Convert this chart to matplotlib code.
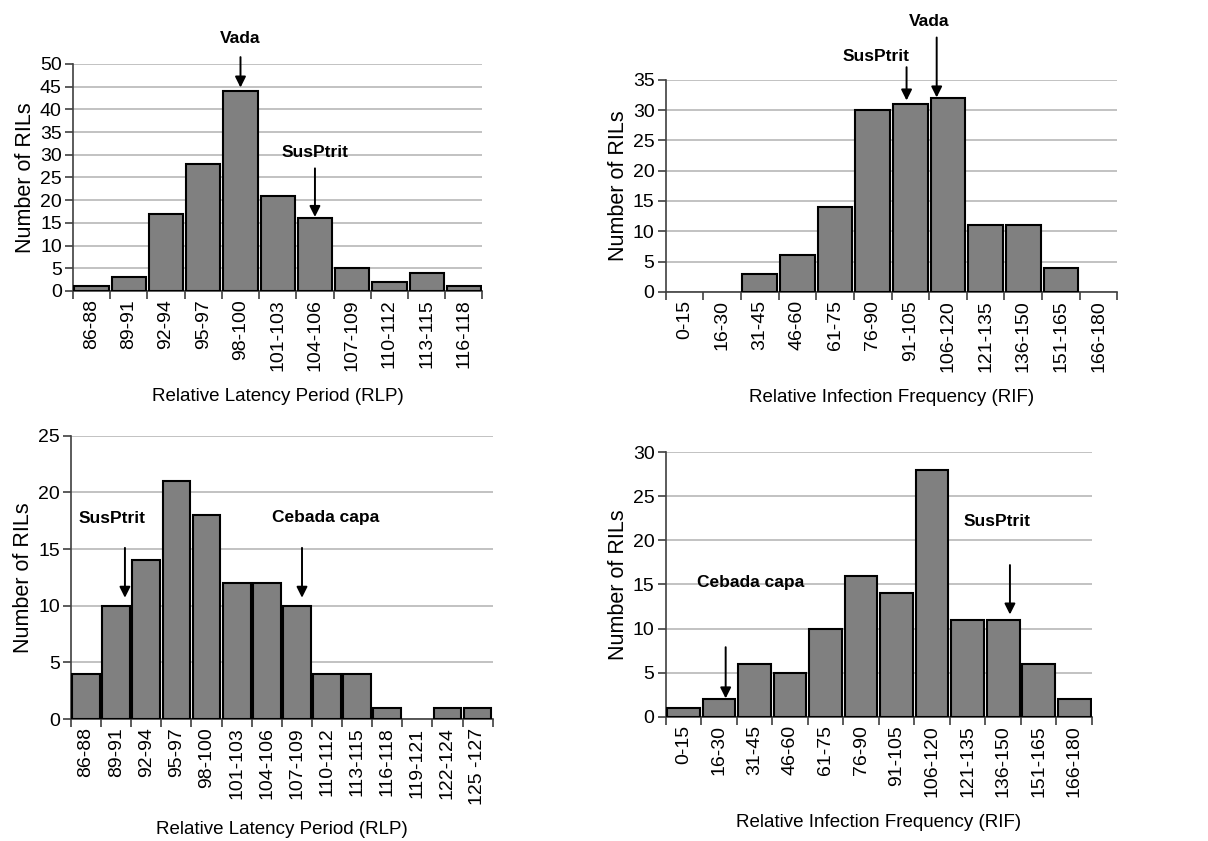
import numpy as np
from matplotlib import pyplot as plt

plt.rcParams['font.family'] = ['Liberation Sans', 'DejaVu Sans']

# category labels
rlp_labels_a = ['86-88', '89-91', '92-94', '95-97', '98-100', '101-103', '104-106',
                '107-109', '110-112', '113-115', '116-118']
rlp_labels_b = rlp_labels_a + ['119-121', '122-124', '125 -127']
rif_labels = ['0-15', '16-30', '31-45', '46-60', '61-75', '76-90', '91-105',
              '106-120', '121-135', '136-150', '151-165', '166-180']

# counts of RILs
rlp_counts_a = [1, 3, 17, 28, 44, 21, 16, 5, 2, 4, 1]
rif_counts_a = [0, 0, 3, 6, 14, 30, 31, 32, 11, 11, 4, 0]
rlp_counts_b = [4, 10, 14, 21, 18, 12, 12, 10, 4, 4, 1, 0, 1, 1]
rif_counts_b = [1, 2, 6, 5, 10, 16, 14, 28, 11, 11, 6, 2]

# parent markers: (name, text x, text y, arrow x, arrow start, arrow tip)
marks_tl = [('Vada', 4.0, 55.5, 4.0, 51.5, 44.8),
            ('SusPtrit', 6.0, 30.5, 6.0, 27.0, 16.3)]
marks_tr = [('Vada', 6.5, 44.7, 6.7, 42.0, 32.1),
            ('SusPtrit', 5.1, 38.9, 5.9, 37.1, 31.6)]
marks_bl = [('SusPtrit', 0.86, 17.7, 1.29, 15.1, 10.7),
            ('Cebada capa', 7.94, 17.8, 7.17, 15.1, 10.7)]
marks_br = [('Cebada capa', 1.89, 15.2, 1.19, 7.9, 2.1),
            ('SusPtrit', 8.83, 22.1, 9.19, 17.2, 11.6)]


def draw_hist(ax, labels, counts, ymax, xlabel, marks):
    n = len(labels)
    x = np.arange(n)
    ax.set_axisbelow(True)
    ax.yaxis.grid(True, color='#b8b8b8', linewidth=1.2)
    lws = [1.5 if c > 0 else 0 for c in counts]
    ax.bar(x, counts, width=0.92, color='#808080', edgecolor='black', linewidth=lws, zorder=3)
    ax.set_xlim(-0.5, n - 0.5)
    ax.set_ylim(0, ymax)
    ax.set_yticks(np.arange(0, ymax + 1, 5))
    ax.set_xticks(x)
    ax.set_xticklabels(labels, rotation=90)
    ax.set_xticks(np.arange(-0.5, n), minor=True)
    ax.tick_params(axis='x', which='major', length=0, labelsize=14, pad=6)
    ax.tick_params(axis='x', which='minor', length=6, width=1.2, color='#404040')
    ax.tick_params(axis='y', length=6, width=1.2, color='#404040', labelsize=14, pad=2)
    for s in ['top', 'right']:
        ax.spines[s].set_visible(False)
    for s in ['left', 'bottom']:
        ax.spines[s].set_color('#404040')
        ax.spines[s].set_linewidth(1.2)
    ax.set_xlabel(xlabel, fontsize=13.5, labelpad=12)
    ax.set_ylabel('Number of RILs', fontsize=15.5, labelpad=3)
    for name, tx, ty, axx, a0, a1 in marks:
        ax.text(tx, ty, name, ha='center', va='center', fontsize=12.5,
                fontweight='bold', clip_on=False, zorder=5)
        ax.annotate('', xy=(axx, a1), xytext=(axx, a0), annotation_clip=False,
                    arrowprops=dict(arrowstyle='-|>', color='black', lw=1.4,
                                    mutation_scale=16, shrinkA=0, shrinkB=0), zorder=5)


fig = plt.figure(figsize=(12.08, 8.41), dpi=100)
ax1 = fig.add_axes([0.0604, 0.654, 0.339, 0.270])
ax2 = fig.add_axes([0.551, 0.653, 0.374, 0.252])
ax3 = fig.add_axes([0.0588, 0.145, 0.349, 0.337])
ax4 = fig.add_axes([0.551, 0.1475, 0.353, 0.315])

draw_hist(ax1, rlp_labels_a, rlp_counts_a, 50, 'Relative Latency Period (RLP)', marks_tl)
draw_hist(ax2, rif_labels, rif_counts_a, 35, 'Relative Infection Frequency (RIF)', marks_tr)
draw_hist(ax3, rlp_labels_b, rlp_counts_b, 25, 'Relative Latency Period (RLP)', marks_bl)
draw_hist(ax4, rif_labels, rif_counts_b, 30, 'Relative Infection Frequency (RIF)', marks_br)

fig.savefig('out.png', dpi=100)
